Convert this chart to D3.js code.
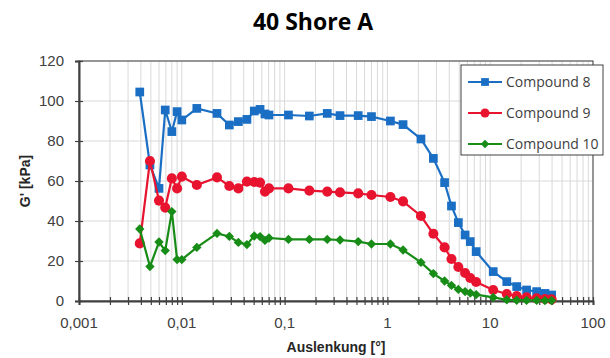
<!DOCTYPE html>
<html>
<head>
<meta charset="utf-8">
<script src="https://cdn.jsdelivr.net/npm/d3@7"></script>
<style>
  body { margin: 0; background: #fff; }
  svg { display: block; }
</style>
</head>
<body>
<div id="chart"></div>
<script>
// data (strain in degrees, G' in kPa)
var strain = [0.0039, 0.0049, 0.006, 0.0069, 0.008, 0.009, 0.010, 0.014, 0.022, 0.029,
              0.0355, 0.043, 0.0507, 0.0577, 0.0644, 0.0705, 0.109, 0.174, 0.26, 0.346,
              0.52, 0.70, 1.07, 1.42, 2.12, 2.8, 3.6, 4.2, 4.9, 5.7,
              6.4, 7.3, 10.7, 14.5, 18.1, 22.6, 28.3, 34.1, 39.6];

var compound8 = [104.5, 68, 56.3, 95.5, 84.7, 94.7, 90.5, 96.3, 93.8, 88,
                 89.7, 90.8, 95, 95.8, 93.5, 93, 93, 92.5, 93.8, 92.7,
                 92.7, 92.2, 90, 88.2, 81, 71.3, 59.2, 47.5, 39.2, 33,
                 29.7, 24.7, 14.7, 9.7, 7.2, 5.5, 4.7, 3.8, 3];

var compound9 = [28.8, 70, 50.2, 46.7, 61.3, 56.3, 62.2, 58, 61.8, 57.5,
                 56.3, 59.7, 59.5, 59.2, 54.7, 56.3, 56.3, 55.2, 54.7, 54.3,
                 53.8, 53, 52, 49.8, 42.5, 33.6, 26.8, 21, 17, 14,
                 11.5, 9.5, 5.5, 3.5, 2.5, 1.8, 1.3, 1, 0.8];

var compound10 = [36, 17.2, 29.5, 25.2, 44.7, 20.7, 20.7, 26.8, 33.8, 32.3,
                  29.3, 28.2, 32.5, 32.2, 30.3, 31.5, 30.8, 30.8, 30.8, 30.5,
                  29.7, 28.5, 28.5, 25.5, 19.3, 13.7, 10, 7.8, 5.8, 4.7,
                  4, 3.2, 1.8, 0.6, 0.4, 0.3, 0.3, 0.2, 0.2];

var seriesNames = ["Compound 8", "Compound 9", "Compound 10"];
var xTicks = [0.001, 0.01, 0.1, 1, 10, 100];
var xTickLabels = ["0,001", "0,01", "0,1", "1", "10", "100"];
var yTicks = [0, 20, 40, 60, 80, 100, 120];

var w = 610, h = 358;
var margin = {top: 61, right: 17, bottom: 57, left: 79};
var pw = w - margin.left - margin.right;
var ph = h - margin.top - margin.bottom;

var svg = d3.select("#chart").append("svg")
    .attr("width", w)
    .attr("height", h);

var x = d3.scaleLog().domain([0.001, 100]).range([0, pw]);
var y = d3.scaleLinear().domain([0, 120]).range([ph, 0]);

var g = svg.append("g")
    .attr("transform", "translate(" + margin.left + "," + margin.top + ")");

// minor log positions for grid + ticks
var minor = [];
for (var d = -3; d < 2; d++) {
    for (var k = 1; k < 10; k++) minor.push(k * Math.pow(10, d));
}
minor.push(100);

// vertical grid
g.selectAll(".vgrid").data(minor).enter().append("line")
    .attr("x1", function (v) { return x(v); })
    .attr("x2", function (v) { return x(v); })
    .attr("y1", 0).attr("y2", ph)
    .attr("stroke", "#d9d9d9").attr("stroke-width", 1);

// horizontal grid
g.selectAll(".hgrid").data(yTicks).enter().append("line")
    .attr("x1", 0).attr("x2", pw)
    .attr("y1", function (v) { return y(v); })
    .attr("y2", function (v) { return y(v); })
    .attr("stroke", "#d9d9d9").attr("stroke-width", 1);

// plot border
g.append("rect")
    .attr("width", pw).attr("height", ph)
    .attr("fill", "none")
    .attr("stroke", "#404040").attr("stroke-width", 1);

// axes, drawn thicker on left and bottom
var yAxis = g.append("g")
    .call(d3.axisLeft(y).tickValues(yTicks).tickSize(4).tickFormat(d3.format("d")));
var xAxis = g.append("g")
    .attr("transform", "translate(0," + ph + ")")
    .call(d3.axisBottom(x).tickValues(minor).tickSize(4).tickFormat(""));

[yAxis, xAxis].forEach(function (ax) {
    ax.select(".domain").attr("stroke", "#404040").attr("stroke-width", 2);
    ax.selectAll(".tick line").attr("stroke", "#404040").attr("stroke-width", 1.2);
});
// ticks cross the axis line
yAxis.selectAll(".tick line").attr("x1", 4);
xAxis.selectAll(".tick line").attr("y1", -4);
yAxis.selectAll(".tick text")
    .attr("x", -15)
    .style("font", "15px 'Liberation Sans', Arial, sans-serif")
    .attr("fill", "#404040");

// x tick labels
g.selectAll(".xlab").data(xTicks).enter().append("text")
    .attr("x", function (v, i) { return x(v); })
    .attr("y", ph + 27)
    .attr("text-anchor", "middle")
    .style("font", "15px 'Liberation Sans', Arial, sans-serif")
    .attr("fill", "#404040")
    .text(function (v, i) { return xTickLabels[i]; });

// axis titles
svg.append("text")
    .attr("x", margin.left + pw / 2)
    .attr("y", 352)
    .attr("text-anchor", "middle")
    .style("font", "bold 14px 'Liberation Sans', Arial, sans-serif")
    .attr("fill", "#262626")
    .text("Auslenkung [°]");

svg.append("text")
    .attr("transform", "translate(30," + (margin.top + ph / 2) + ") rotate(-90)")
    .attr("text-anchor", "middle")
    .style("font", "bold 14px 'Liberation Sans', Arial, sans-serif")
    .attr("fill", "#262626")
    .text("G' [kPa]");

svg.append("text")
    .attr("x", 313)
    .attr("y", 30)
    .attr("text-anchor", "middle")
    .style("font", "bold 23px 'Open Sans', sans-serif")
    .attr("fill", "#000")
    .text("40 Shore A");

// series; diamonds are squares turned 45 degrees
var series = [
    {name: seriesNames[0], values: compound8, color: "#1a6fc4", shape: d3.symbolSquare, size: 76, rot: 0},
    {name: seriesNames[1], values: compound9, color: "#e8132f", shape: d3.symbolCircle, size: 80, rot: 0},
    {name: seriesNames[2], values: compound10, color: "#178c17", shape: d3.symbolSquare, size: 44, rot: 45}
];

var line = d3.line()
    .x(function (v, i) { return x(strain[i]); })
    .y(function (v) { return y(v); });

series.forEach(function (s) {
    g.append("path")
        .datum(s.values)
        .attr("d", line)
        .attr("fill", "none")
        .attr("stroke", s.color)
        .attr("stroke-width", 2.2);

    g.selectAll(null).data(s.values).enter().append("path")
        .attr("d", d3.symbol().type(s.shape).size(s.size))
        .attr("transform", function (v, i) {
            return "translate(" + x(strain[i]) + "," + y(v) + ") rotate(" + s.rot + ")";
        })
        .attr("fill", s.color);
});

// legend
var lg = svg.append("g").attr("transform", "translate(461,65)");
lg.append("rect")
    .attr("width", 142).attr("height", 90)
    .attr("fill", "#fff")
    .attr("stroke", "#404040").attr("stroke-width", 1);

series.forEach(function (s, i) {
    var ly = 17 + i * 31;
    lg.append("line")
        .attr("x1", 7).attr("x2", 41)
        .attr("y1", ly).attr("y2", ly)
        .attr("stroke", s.color).attr("stroke-width", 2);
    lg.append("path")
        .attr("d", d3.symbol().type(s.shape).size(s.size * 0.8))
        .attr("transform", "translate(24," + ly + ") rotate(" + s.rot + ")")
        .attr("fill", s.color);
    lg.append("text")
        .attr("x", 45).attr("y", ly + 5)
        .style("font", "14px 'Open Sans', sans-serif")
        .attr("fill", "#404040")
        .text(s.name);
});
</script>
</body>
</html>
